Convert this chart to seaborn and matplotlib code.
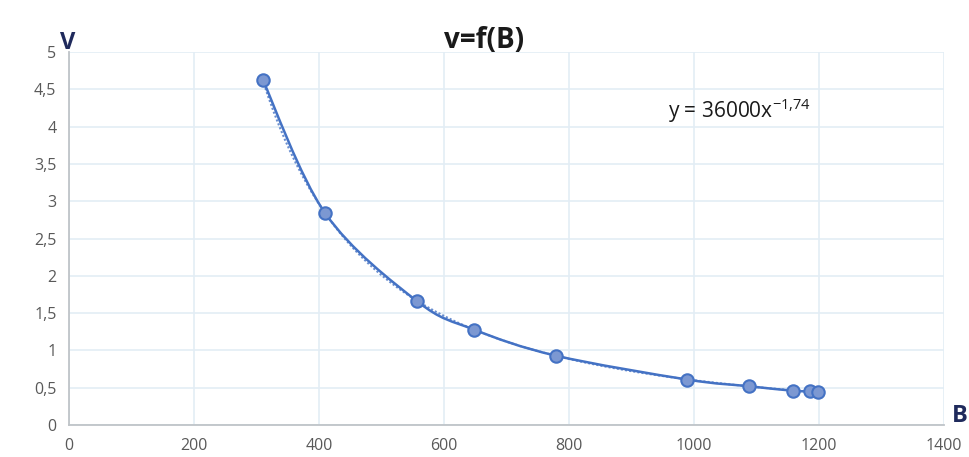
import numpy as np
import pandas as pd
import matplotlib
matplotlib.use("Agg")
import matplotlib.pyplot as plt
from matplotlib.path import Path
from matplotlib.patches import PathPatch
from matplotlib.ticker import FuncFormatter
import seaborn as sns

# data
B = [310, 410, 557, 648, 779, 989, 1088, 1158, 1186, 1198]
V = [4.63, 2.84, 1.66, 1.28, 0.93, 0.61, 0.52, 0.46, 0.45, 0.44]
x_ticks = [0, 200, 400, 600, 800, 1000, 1200, 1400]
y_ticks = [0, 0.5, 1, 1.5, 2, 2.5, 3, 3.5, 4, 4.5, 5]

df = pd.DataFrame({"B": B, "V": V})

sns.set_style("white")
plt.rcParams["font.family"] = ["Open Sans", "DejaVu Sans"]

blue = "#4472C4"
navy = "#1F2A5C"
grid = "#E3EDF5"

fig = plt.figure(figsize=(9.69, 4.57), dpi=100)
ax = fig.add_axes([0.0712, 0.070, 0.9028, 0.816])

# smoothed line through the points (Catmull-Rom as bezier, like Excel)
pts = df[["B", "V"]].to_numpy()
verts = [tuple(pts[0])]
codes = [Path.MOVETO]
for i in range(len(pts) - 1):
    p0 = pts[i - 1] if i > 0 else pts[i]
    p1 = pts[i]
    p2 = pts[i + 1]
    p3 = pts[i + 2] if i + 2 < len(pts) else pts[i + 1]
    c1 = p1 + (p2 - p0) / 6.0
    c2 = p2 - (p3 - p1) / 6.0
    verts += [tuple(c1), tuple(c2), tuple(p2)]
    codes += [Path.CURVE4] * 3
ax.add_patch(PathPatch(Path(verts, codes), fill=False, edgecolor=blue,
                       linewidth=1.8, zorder=3))

# power trendline fitted to the data
k, c = np.polyfit(np.log(df["B"]), np.log(df["V"]), 1)
xs = np.linspace(df["B"].min(), df["B"].max(), 200)
ax.plot(xs, np.exp(c) * xs ** k, color=blue, linestyle=(0, (1, 1)),
        linewidth=1.5, alpha=0.8, zorder=2)

sns.scatterplot(data=df, x="B", y="V", ax=ax, s=80, color="#7C98D2",
                edgecolor=blue, linewidth=1.5, zorder=4, legend=False)

ax.set_xlim(0, 1400)
ax.set_ylim(0, 5)
ax.set_xticks(x_ticks)
ax.set_yticks(y_ticks)
ax.yaxis.set_major_formatter(FuncFormatter(lambda v, p: f"{v:g}".replace(".", ",")))
ax.grid(True, color=grid, linewidth=1.2)
ax.set_axisbelow(True)
for s in ["top", "right"]:
    ax.spines[s].set_visible(False)
for s in ["left", "bottom"]:
    ax.spines[s].set_color("#BFC4C8")
    ax.spines[s].set_linewidth(1.3)
ax.tick_params(axis="both", length=0, labelsize=11.5, labelcolor="#595959", pad=9)
ax.set_xlabel("")
ax.set_ylabel("")

fig.text(0.5, 0.912, "v=f(B)", ha="center", va="center", fontsize=20,
         fontweight="bold", color="#1a1a1a")
fig.text(0.062, 0.905, "V", ha="left", va="center", fontsize=17,
         fontweight="bold", color=navy)
fig.text(0.982, 0.09, "B", ha="left", va="center", fontsize=17,
         fontweight="bold", color=navy)
ax.text(958, 4.22, r"y = 36000x$^{\mathregular{-1{,}74}}$", fontsize=15,
        ha="left", va="center", color="#1a1a1a")

fig.savefig("out.png", dpi=100)
